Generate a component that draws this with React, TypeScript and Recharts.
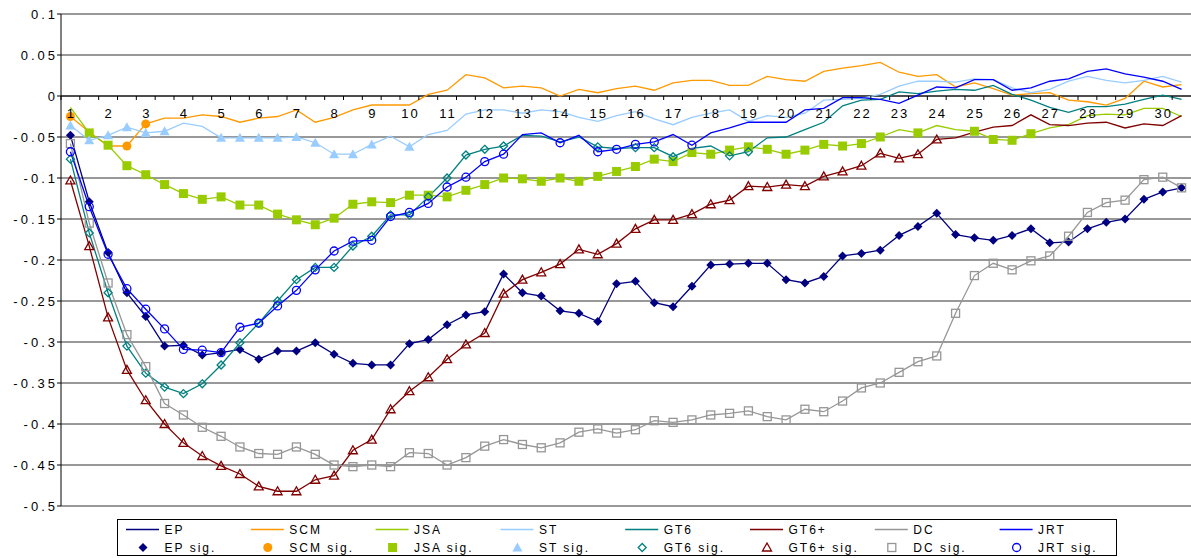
import { CartesianGrid, Line, LineChart, ReferenceLine, XAxis, YAxis } from 'recharts'

const FONT = '"Liberation Sans", Arial, sans-serif'

// half-step categories, only whole ones get a label
const steps = [
  '1', '1.5', '2', '2.5', '3', '3.5', '4', '4.5', '5', '5.5',
  '6', '6.5', '7', '7.5', '8', '8.5', '9', '9.5', '10', '10.5',
  '11', '11.5', '12', '12.5', '13', '13.5', '14', '14.5', '15', '15.5',
  '16', '16.5', '17', '17.5', '18', '18.5', '19', '19.5', '20', '20.5',
  '21', '21.5', '22', '22.5', '23', '23.5', '24', '24.5', '25', '25.5',
  '26', '26.5', '27', '27.5', '28', '28.5', '29', '29.5', '30', '30.5',
]

const yTicks = [-0.5, -0.45, -0.4, -0.35, -0.3, -0.25, -0.2, -0.15, -0.1, -0.05, 0, 0.05, 0.1]

const ep = [
  -0.048, -0.129, -0.191, -0.24, -0.269, -0.305, -0.304, -0.316, -0.313, -0.309,
  -0.321, -0.311, -0.311, -0.301, -0.315, -0.326, -0.328, -0.328, -0.302, -0.297,
  -0.279, -0.267, -0.263, -0.217, -0.24, -0.244, -0.262, -0.265, -0.275, -0.229,
  -0.226, -0.252, -0.257, -0.232, -0.206, -0.205, -0.204, -0.204, -0.224, -0.228,
  -0.22, -0.195, -0.192, -0.188, -0.17, -0.159, -0.143, -0.169, -0.173, -0.176,
  -0.17, -0.162, -0.179, -0.178, -0.162, -0.154, -0.15, -0.126, -0.117, -0.112,
]
const scm = [
  -0.025, -0.044, -0.061, -0.061, -0.034, -0.027, -0.027, -0.023, -0.025, -0.032,
  -0.027, -0.025, -0.017, -0.032, -0.026, -0.017, -0.011, -0.011, -0.011, 0.002,
  0.007, 0.026, 0.022, 0.01, 0.012, 0.01, 0.0, 0.008, 0.004, 0.009,
  0.012, 0.007, 0.016, 0.019, 0.019, 0.013, 0.013, 0.024, 0.02, 0.018,
  0.03, 0.034, 0.037, 0.041, 0.029, 0.024, 0.026, 0.011, 0.016, 0.009,
  0.001, 0.003, 0.004, -0.005, -0.007, -0.011, -0.003, 0.018, 0.011, 0.014,
]
const jsa = [
  -0.014, -0.045, -0.06, -0.085, -0.096, -0.108, -0.119, -0.126, -0.123, -0.133,
  -0.133, -0.144, -0.151, -0.157, -0.149, -0.132, -0.129, -0.13, -0.121, -0.121,
  -0.123, -0.115, -0.108, -0.1, -0.101, -0.104, -0.1, -0.104, -0.098, -0.092,
  -0.086, -0.077, -0.08, -0.069, -0.071, -0.066, -0.062, -0.065, -0.071, -0.066,
  -0.059, -0.061, -0.058, -0.05, -0.041, -0.045, -0.036, -0.041, -0.043, -0.053,
  -0.054, -0.046, -0.039, -0.035, -0.024, -0.022, -0.023, -0.015, -0.015, -0.025,
]
const st = [
  -0.036, -0.054, -0.048, -0.038, -0.045, -0.043, -0.033, -0.037, -0.051, -0.051,
  -0.051, -0.051, -0.05, -0.057, -0.071, -0.071, -0.059, -0.049, -0.062, -0.047,
  -0.042, -0.022, -0.017, -0.017, -0.021, -0.017, -0.019, -0.026, -0.031, -0.024,
  -0.019, -0.028, -0.035, -0.026, -0.021, -0.017, -0.031, -0.024, -0.026, -0.021,
  -0.005, -0.004, -0.003, 0.002, 0.012, 0.018, 0.018, 0.017, 0.021, 0.02,
  0.01, 0.004, 0.008, 0.018, 0.024, 0.019, 0.016, 0.019, 0.024, 0.017,
]
const gt6 = [
  -0.077, -0.167, -0.24, -0.305, -0.338, -0.355, -0.363, -0.351, -0.328, -0.301,
  -0.277, -0.25, -0.224, -0.209, -0.209, -0.183, -0.171, -0.145, -0.145, -0.123,
  -0.1, -0.072, -0.065, -0.061, -0.048, -0.049, -0.056, -0.05, -0.062, -0.064,
  -0.063, -0.063, -0.074, -0.064, -0.061, -0.073, -0.068, -0.051, -0.05, -0.041,
  -0.032, -0.012, -0.005, -0.004, 0.005, 0.003, 0.006, 0.008, 0.007, 0.013,
  0.002, -0.005, -0.014, -0.02, -0.013, -0.013, -0.01, -0.004, 0.001, -0.004,
]
const gt6p = [
  -0.103, -0.183, -0.27, -0.334, -0.371, -0.4, -0.423, -0.439, -0.451, -0.461,
  -0.476, -0.482, -0.482, -0.468, -0.463, -0.432, -0.419, -0.382, -0.36, -0.343,
  -0.321, -0.303, -0.289, -0.241, -0.224, -0.215, -0.205, -0.187, -0.193, -0.18,
  -0.162, -0.151, -0.151, -0.144, -0.132, -0.127, -0.11, -0.111, -0.108, -0.11,
  -0.098, -0.092, -0.085, -0.07, -0.076, -0.071, -0.053, -0.051, -0.044, -0.038,
  -0.036, -0.023, -0.035, -0.036, -0.033, -0.032, -0.039, -0.034, -0.036, -0.024,
]
const dc = [
  -0.058, -0.155, -0.228, -0.291, -0.33, -0.375, -0.389, -0.404, -0.415, -0.428,
  -0.436, -0.437, -0.428, -0.437, -0.45, -0.452, -0.45, -0.452, -0.435, -0.436,
  -0.45, -0.441, -0.427, -0.419, -0.425, -0.429, -0.423, -0.41, -0.406, -0.411,
  -0.407, -0.396, -0.398, -0.395, -0.389, -0.387, -0.384, -0.391, -0.395, -0.382,
  -0.385, -0.372, -0.356, -0.35, -0.337, -0.324, -0.317, -0.265, -0.219, -0.204,
  -0.212, -0.201, -0.195, -0.171, -0.142, -0.13, -0.127, -0.102, -0.099, -0.112,
]
const jrt = [
  -0.068, -0.135, -0.193, -0.235, -0.26, -0.284, -0.309, -0.31, -0.313, -0.282,
  -0.277, -0.256, -0.237, -0.212, -0.189, -0.177, -0.176, -0.147, -0.142, -0.131,
  -0.111, -0.099, -0.08, -0.071, -0.047, -0.045, -0.057, -0.048, -0.068, -0.065,
  -0.059, -0.056, -0.047, -0.06, -0.045, -0.039, -0.032, -0.032, -0.032, -0.017,
  -0.015, -0.002, -0.002, -0.004, -0.009, 0.001, 0.011, 0.01, 0.02, 0.02,
  0.007, 0.01, 0.018, 0.021, 0.03, 0.033, 0.027, 0.023, 0.018, 0.008,
]

// 1 = significant point (drawn with a marker)
const epSig = [
  1, 1, 1, 1, 1, 1, 1, 1, 1, 1, 1, 1, 1, 1, 1, 1, 1, 1, 1, 1,
  1, 1, 1, 1, 1, 1, 1, 1, 1, 1, 1, 1, 1, 1, 1, 1, 1, 1, 1, 1,
  1, 1, 1, 1, 1, 1, 1, 1, 1, 1, 1, 1, 1, 1, 1, 1, 1, 1, 1, 1,
]
const scmSig = [
  1, 0, 0, 1, 1, 0, 0, 0, 0, 0, 0, 0, 0, 0, 0, 0, 0, 0, 0, 0,
  0, 0, 0, 0, 0, 0, 0, 0, 0, 0, 0, 0, 0, 0, 0, 0, 0, 0, 0, 0,
  0, 0, 0, 0, 0, 0, 0, 0, 0, 0, 0, 0, 0, 0, 0, 0, 0, 0, 0, 0,
]
const jsaSig = [
  0, 1, 1, 1, 1, 1, 1, 1, 1, 1, 1, 1, 1, 1, 1, 1, 1, 1, 1, 1,
  1, 1, 1, 1, 1, 1, 1, 1, 1, 1, 1, 1, 1, 1, 1, 1, 1, 1, 1, 1,
  1, 1, 1, 1, 0, 1, 0, 0, 1, 1, 1, 1, 0, 0, 0, 0, 0, 0, 0, 0,
]
const stSig = [
  1, 1, 1, 1, 1, 1, 0, 0, 1, 1, 1, 1, 1, 1, 1, 1, 1, 0, 1, 0,
  0, 0, 0, 0, 0, 0, 0, 0, 0, 0, 0, 0, 0, 0, 0, 0, 0, 0, 0, 0,
  0, 0, 0, 0, 0, 0, 0, 0, 0, 0, 0, 0, 0, 0, 0, 0, 0, 0, 0, 0,
]
const gt6Sig = [
  1, 1, 1, 1, 1, 1, 1, 1, 1, 1, 1, 1, 1, 1, 1, 1, 1, 1, 1, 1,
  1, 1, 1, 1, 0, 0, 0, 0, 1, 0, 1, 1, 1, 0, 0, 1, 1, 0, 0, 0,
  0, 0, 0, 0, 0, 0, 0, 0, 0, 0, 0, 0, 0, 0, 0, 0, 0, 0, 0, 0,
]
const gt6pSig = [
  1, 1, 1, 1, 1, 1, 1, 1, 1, 1, 1, 1, 1, 1, 1, 1, 1, 1, 1, 1,
  1, 1, 1, 1, 1, 1, 1, 1, 1, 1, 1, 1, 1, 1, 1, 1, 1, 1, 1, 1,
  1, 1, 1, 1, 1, 1, 1, 0, 0, 0, 0, 0, 0, 0, 0, 0, 0, 0, 0, 0,
]
const dcSig = epSig
const jrtSig = [
  1, 1, 1, 1, 1, 1, 1, 1, 1, 1, 1, 1, 1, 1, 1, 1, 1, 1, 1, 1,
  1, 1, 1, 1, 0, 0, 1, 0, 1, 1, 1, 1, 0, 1, 0, 0, 0, 0, 0, 0,
  0, 0, 0, 0, 0, 0, 0, 0, 0, 0, 0, 0, 0, 0, 0, 0, 0, 0, 0, 0,
]

type MarkerKind = 'diamond' | 'circle' | 'square' | 'triangle' | 'odiamond' | 'otriangle' | 'osquare' | 'ocircle'

const SERIES: { key: string; name: string; color: string; marker: MarkerKind; values: number[]; sig: number[] }[] = [
  { key: 'ep', name: 'EP', color: '#000080', marker: 'diamond', values: ep, sig: epSig },
  { key: 'scm', name: 'SCM', color: '#FF9900', marker: 'circle', values: scm, sig: scmSig },
  { key: 'jsa', name: 'JSA', color: '#99CC00', marker: 'square', values: jsa, sig: jsaSig },
  { key: 'st', name: 'ST', color: '#99CCFF', marker: 'triangle', values: st, sig: stSig },
  { key: 'gt6', name: 'GT6', color: '#008080', marker: 'odiamond', values: gt6, sig: gt6Sig },
  { key: 'gt6p', name: 'GT6+', color: '#800000', marker: 'otriangle', values: gt6p, sig: gt6pSig },
  { key: 'dc', name: 'DC', color: '#969696', marker: 'osquare', values: dc, sig: dcSig },
  { key: 'jrt', name: 'JRT', color: '#0000FF', marker: 'ocircle', values: jrt, sig: jrtSig },
]

const data = steps.map((step, i) => {
  const row: Record<string, string | number> = { step }
  SERIES.forEach((s) => (row[s.key] = s.values[i]))
  return row
})

const W = 1191
const H = 558
const TOP = 14
const LEFT = 61
const XAXIS_H = 52
const PLOT_H = H - TOP - XAXIS_H
const HALF_BAND = (W - LEFT) / steps.length / 2
// the category axis crosses at y = 0
const ZERO_Y = TOP + (PLOT_H * 0.1) / 0.6

function Marker({ kind, cx, cy, color }: { kind: MarkerKind; cx: number; cy: number; color: string }) {
  switch (kind) {
    case 'diamond':
      return <polygon points={`${cx},${cy - 4.5} ${cx + 4.5},${cy} ${cx},${cy + 4.5} ${cx - 4.5},${cy}`} fill={color} />
    case 'circle':
      return <circle cx={cx} cy={cy} r={4.5} fill={color} />
    case 'square':
      return <rect x={cx - 4.5} y={cy - 4.5} width={9} height={9} fill={color} />
    case 'triangle':
      return <polygon points={`${cx},${cy - 5} ${cx + 5},${cy + 4} ${cx - 5},${cy + 4}`} fill={color} />
    case 'odiamond':
      return (
        <polygon
          points={`${cx},${cy - 4} ${cx + 4},${cy} ${cx},${cy + 4} ${cx - 4},${cy}`}
          fill="none"
          stroke={color}
          strokeWidth={1.3}
        />
      )
    case 'otriangle':
      return (
        <polygon
          points={`${cx},${cy - 4.5} ${cx + 4.5},${cy + 3.5} ${cx - 4.5},${cy + 3.5}`}
          fill="none"
          stroke={color}
          strokeWidth={1.3}
        />
      )
    case 'osquare':
      return <rect x={cx - 4} y={cy - 4} width={8} height={8} fill="none" stroke={color} strokeWidth={1.3} />
    default:
      return <circle cx={cx} cy={cy} r={4} fill="none" stroke={color} strokeWidth={1.3} />
  }
}

function XTick({ x, payload }: any) {
  const label = String(payload.value)
  const whole = !label.includes('.')
  return (
    <g>
      <line x1={x - HALF_BAND} x2={x - HALF_BAND} y1={ZERO_Y} y2={ZERO_Y + 4} stroke="#000" />
      {whole && (
        <text x={x + 1} y={ZERO_Y + 21.5} textAnchor="middle" fontSize={13} letterSpacing={2} fill="#000" fontFamily={FONT}>
          {label}
        </text>
      )}
    </g>
  )
}

function YTick({ x, y, payload }: any) {
  const label = String(Number(Number(payload.value).toFixed(2)))
  return (
    <text x={x + 3} y={y} dy={4.5} textAnchor="end" fontSize={13} letterSpacing={3} fill="#000" fontFamily={FONT}>
      {label}
    </text>
  )
}

function LegendBox() {
  const colX = (k: number) => 9 + k * 124.8
  return (
    <svg width={1001} height={38} style={{ position: 'absolute', left: 117, top: 519, display: 'block' }}>
      <rect x={0.5} y={0.5} width={999} height={36} fill="#fff" stroke="#000" />
      {SERIES.map((s, k) => (
        <g key={s.key} fontFamily={FONT} fontSize={12} letterSpacing={2} fill="#000">
          <line x1={colX(k)} x2={colX(k) + 33} y1={10.5} y2={10.5} stroke={s.color} strokeWidth={1.3} />
          <text x={colX(k) + 38.5} y={14.8}>
            {s.name}
          </text>
          <Marker kind={s.marker} cx={colX(k) + 17} cy={28.5} color={s.color} />
          <text x={colX(k) + 38.5} y={32.8}>
            {s.name} sig.
          </text>
        </g>
      ))}
    </svg>
  )
}

export default function App() {
  return (
    <div style={{ position: 'relative', width: W, height: H, background: '#fff' }}>
      <style>{'body{margin:0}'}</style>
      <LineChart width={W} height={H} data={data} margin={{ top: TOP, right: 0, bottom: 0, left: 0 }}>
        <CartesianGrid vertical={false} stroke="#333" />
        <XAxis
          dataKey="step"
          interval={0}
          axisLine={false}
          tickLine={false}
          height={XAXIS_H}
          padding={{ left: HALF_BAND, right: HALF_BAND }}
          tick={<XTick />}
        />
        <YAxis
          width={LEFT}
          domain={[-0.5, 0.1]}
          ticks={yTicks}
          interval={0}
          tickSize={4}
          axisLine={{ stroke: '#000' }}
          tickLine={{ stroke: '#000' }}
          tick={<YTick />}
          allowDataOverflow
        />
        <ReferenceLine y={0} stroke="#000" />
        {SERIES.map((s) => (
          <Line
            key={s.key}
            type="linear"
            dataKey={s.key}
            name={s.name}
            stroke={s.color}
            strokeWidth={1.3}
            isAnimationActive={false}
            activeDot={false}
            dot={(p: any) => (
              <g key={`${s.key}-${p.index}`}>
                {s.sig[p.index] ? <Marker kind={s.marker} cx={p.cx} cy={p.cy} color={s.color} /> : null}
              </g>
            )}
          />
        ))}
      </LineChart>
      <LegendBox />
    </div>
  )
}
